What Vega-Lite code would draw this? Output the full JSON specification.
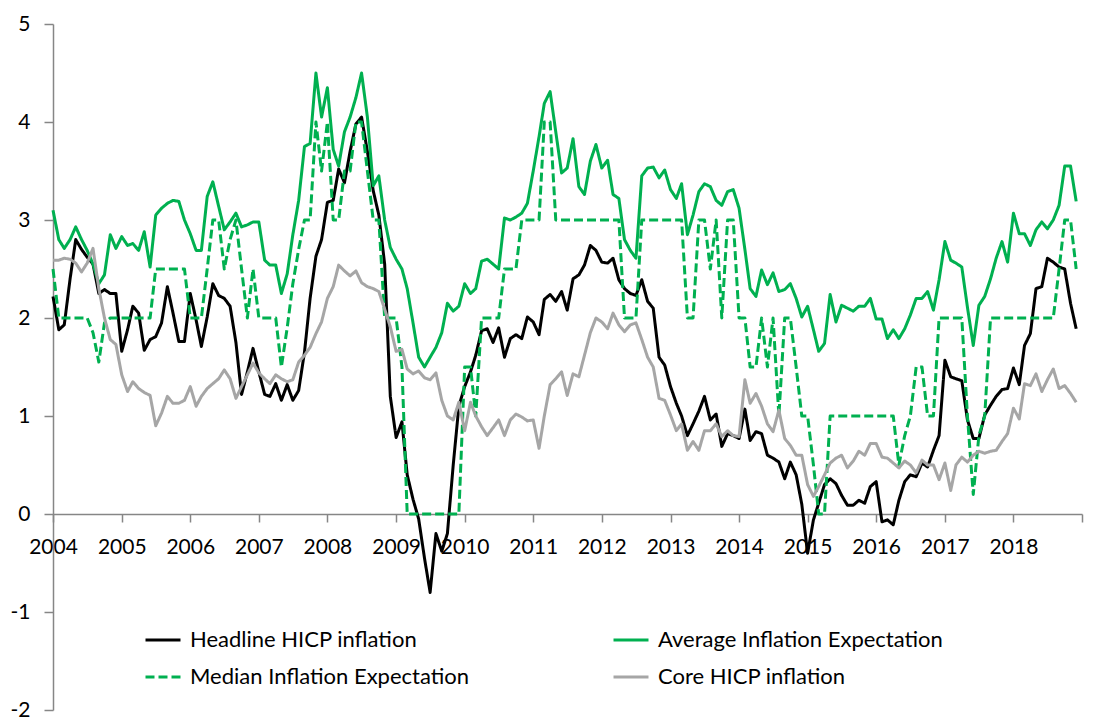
{
"$schema": "https://vega.github.io/schema/vega-lite/v6.json",
"width": 1029, "height": 686,
"autosize": {"type": "none"},
"padding": {"left": 53, "top": 24, "right": 21, "bottom": 12},
"background": "white",
"config": {"view": {"stroke": null}, "font": "Lato"},
"data": {"values": [
{"d":"2004-01-01","h":2.22,"a":3.1,"m":2.5,"c":2.59},
{"d":"2004-02-01","h":1.88,"a":2.8,"m":2.0,"c":2.59},
{"d":"2004-03-01","h":1.93,"a":2.71,"m":2.0,"c":2.61},
{"d":"2004-04-01","h":2.4,"a":2.8,"m":2.0,"c":2.6},
{"d":"2004-05-01","h":2.8,"a":2.93,"m":2.0,"c":2.56},
{"d":"2004-06-01","h":2.7,"a":2.8,"m":2.0,"c":2.47},
{"d":"2004-07-01","h":2.62,"a":2.69,"m":2.0,"c":2.56},
{"d":"2004-08-01","h":2.55,"a":2.55,"m":1.85,"c":2.71},
{"d":"2004-09-01","h":2.25,"a":2.35,"m":1.55,"c":2.3},
{"d":"2004-10-01","h":2.29,"a":2.44,"m":1.95,"c":2.0},
{"d":"2004-11-01","h":2.25,"a":2.85,"m":2.0,"c":1.78},
{"d":"2004-12-01","h":2.25,"a":2.71,"m":2.0,"c":1.73},
{"d":"2005-01-01","h":1.66,"a":2.83,"m":2.0,"c":1.42},
{"d":"2005-02-01","h":1.88,"a":2.74,"m":2.0,"c":1.25},
{"d":"2005-03-01","h":2.12,"a":2.76,"m":2.0,"c":1.35},
{"d":"2005-04-01","h":2.05,"a":2.69,"m":2.0,"c":1.28},
{"d":"2005-05-01","h":1.67,"a":2.88,"m":2.0,"c":1.24},
{"d":"2005-06-01","h":1.78,"a":2.52,"m":2.0,"c":1.21},
{"d":"2005-07-01","h":1.81,"a":3.05,"m":2.5,"c":0.9},
{"d":"2005-08-01","h":1.95,"a":3.12,"m":2.5,"c":1.03},
{"d":"2005-09-01","h":2.32,"a":3.17,"m":2.5,"c":1.2},
{"d":"2005-10-01","h":2.05,"a":3.2,"m":2.5,"c":1.13},
{"d":"2005-11-01","h":1.76,"a":3.19,"m":2.5,"c":1.13},
{"d":"2005-12-01","h":1.76,"a":3.0,"m":2.5,"c":1.16},
{"d":"2006-01-01","h":2.25,"a":2.86,"m":2.0,"c":1.3},
{"d":"2006-02-01","h":1.98,"a":2.69,"m":2.0,"c":1.1},
{"d":"2006-03-01","h":1.71,"a":2.69,"m":2.0,"c":1.2},
{"d":"2006-04-01","h":2.01,"a":3.24,"m":2.5,"c":1.28},
{"d":"2006-05-01","h":2.35,"a":3.39,"m":3.0,"c":1.33},
{"d":"2006-06-01","h":2.23,"a":3.14,"m":3.0,"c":1.38},
{"d":"2006-07-01","h":2.2,"a":2.9,"m":2.5,"c":1.47},
{"d":"2006-08-01","h":2.12,"a":2.98,"m":2.8,"c":1.38},
{"d":"2006-09-01","h":1.75,"a":3.07,"m":3.0,"c":1.18},
{"d":"2006-10-01","h":1.22,"a":2.93,"m":2.5,"c":1.3},
{"d":"2006-11-01","h":1.45,"a":2.95,"m":2.0,"c":1.42},
{"d":"2006-12-01","h":1.69,"a":2.98,"m":2.5,"c":1.54},
{"d":"2007-01-01","h":1.45,"a":2.98,"m":2.0,"c":1.44},
{"d":"2007-02-01","h":1.22,"a":2.59,"m":2.0,"c":1.38},
{"d":"2007-03-01","h":1.2,"a":2.54,"m":2.0,"c":1.33},
{"d":"2007-04-01","h":1.33,"a":2.54,"m":2.0,"c":1.42},
{"d":"2007-05-01","h":1.16,"a":2.25,"m":1.5,"c":1.38},
{"d":"2007-06-01","h":1.32,"a":2.45,"m":1.9,"c":1.35},
{"d":"2007-07-01","h":1.16,"a":2.85,"m":2.35,"c":1.37},
{"d":"2007-08-01","h":1.26,"a":3.2,"m":2.7,"c":1.55},
{"d":"2007-09-01","h":1.65,"a":3.75,"m":3.0,"c":1.62},
{"d":"2007-10-01","h":2.2,"a":3.78,"m":3.0,"c":1.7},
{"d":"2007-11-01","h":2.63,"a":4.5,"m":4.0,"c":1.84},
{"d":"2007-12-01","h":2.8,"a":4.05,"m":3.5,"c":1.96},
{"d":"2008-01-01","h":3.18,"a":4.35,"m":4.0,"c":2.2},
{"d":"2008-02-01","h":3.2,"a":3.72,"m":3.0,"c":2.32},
{"d":"2008-03-01","h":3.52,"a":3.55,"m":3.0,"c":2.54},
{"d":"2008-04-01","h":3.38,"a":3.9,"m":3.5,"c":2.48},
{"d":"2008-05-01","h":3.7,"a":4.05,"m":3.5,"c":2.43},
{"d":"2008-06-01","h":3.98,"a":4.25,"m":4.0,"c":2.48},
{"d":"2008-07-01","h":4.05,"a":4.5,"m":4.0,"c":2.36},
{"d":"2008-08-01","h":3.7,"a":4.05,"m":3.5,"c":2.32},
{"d":"2008-09-01","h":3.3,"a":3.35,"m":3.0,"c":2.3},
{"d":"2008-10-01","h":3.05,"a":3.45,"m":3.0,"c":2.27},
{"d":"2008-11-01","h":2.55,"a":3.0,"m":2.0,"c":2.09},
{"d":"2008-12-01","h":1.2,"a":2.72,"m":2.0,"c":1.91},
{"d":"2009-01-01","h":0.78,"a":2.6,"m":2.0,"c":1.66},
{"d":"2009-02-01","h":0.94,"a":2.5,"m":1.5,"c":1.68},
{"d":"2009-03-01","h":0.4,"a":2.3,"m":0.0,"c":1.48},
{"d":"2009-04-01","h":0.15,"a":1.95,"m":0.0,"c":1.43},
{"d":"2009-05-01","h":-0.05,"a":1.6,"m":0.0,"c":1.46},
{"d":"2009-06-01","h":-0.45,"a":1.5,"m":0.0,"c":1.39},
{"d":"2009-07-01","h":-0.8,"a":1.6,"m":0.0,"c":1.37},
{"d":"2009-08-01","h":-0.2,"a":1.7,"m":0.0,"c":1.44},
{"d":"2009-09-01","h":-0.38,"a":1.85,"m":0.0,"c":1.16},
{"d":"2009-10-01","h":-0.2,"a":2.15,"m":0.0,"c":1.0},
{"d":"2009-11-01","h":0.5,"a":2.07,"m":0.0,"c":0.96},
{"d":"2009-12-01","h":1.1,"a":2.12,"m":0.0,"c":1.14},
{"d":"2010-01-01","h":1.3,"a":2.35,"m":1.5,"c":0.85},
{"d":"2010-02-01","h":1.45,"a":2.25,"m":1.5,"c":1.14},
{"d":"2010-03-01","h":1.62,"a":2.3,"m":1.0,"c":1.0},
{"d":"2010-04-01","h":1.87,"a":2.58,"m":2.0,"c":0.89},
{"d":"2010-05-01","h":1.89,"a":2.6,"m":2.0,"c":0.8},
{"d":"2010-06-01","h":1.75,"a":2.55,"m":2.0,"c":0.88},
{"d":"2010-07-01","h":1.9,"a":2.5,"m":2.0,"c":0.96},
{"d":"2010-08-01","h":1.6,"a":3.02,"m":2.5,"c":0.8},
{"d":"2010-09-01","h":1.79,"a":3.0,"m":2.5,"c":0.96},
{"d":"2010-10-01","h":1.83,"a":3.03,"m":2.5,"c":1.02},
{"d":"2010-11-01","h":1.79,"a":3.07,"m":3.0,"c":0.99},
{"d":"2010-12-01","h":2.01,"a":3.17,"m":3.0,"c":0.95},
{"d":"2011-01-01","h":1.96,"a":3.5,"m":3.0,"c":0.96},
{"d":"2011-02-01","h":1.83,"a":3.85,"m":3.0,"c":0.67},
{"d":"2011-03-01","h":2.19,"a":4.19,"m":4.0,"c":1.0},
{"d":"2011-04-01","h":2.24,"a":4.31,"m":4.0,"c":1.32},
{"d":"2011-05-01","h":2.17,"a":3.9,"m":3.0,"c":1.38},
{"d":"2011-06-01","h":2.27,"a":3.48,"m":3.0,"c":1.45},
{"d":"2011-07-01","h":2.08,"a":3.53,"m":3.0,"c":1.21},
{"d":"2011-08-01","h":2.4,"a":3.83,"m":3.0,"c":1.43},
{"d":"2011-09-01","h":2.44,"a":3.34,"m":3.0,"c":1.4},
{"d":"2011-10-01","h":2.54,"a":3.26,"m":3.0,"c":1.62},
{"d":"2011-11-01","h":2.74,"a":3.6,"m":3.0,"c":1.85},
{"d":"2011-12-01","h":2.69,"a":3.77,"m":3.0,"c":2.0},
{"d":"2012-01-01","h":2.57,"a":3.53,"m":3.0,"c":1.96},
{"d":"2012-02-01","h":2.56,"a":3.61,"m":3.0,"c":1.89},
{"d":"2012-03-01","h":2.61,"a":3.26,"m":3.0,"c":2.05},
{"d":"2012-04-01","h":2.39,"a":3.22,"m":3.0,"c":1.93},
{"d":"2012-05-01","h":2.3,"a":2.8,"m":2.0,"c":1.86},
{"d":"2012-06-01","h":2.25,"a":2.69,"m":2.0,"c":1.93},
{"d":"2012-07-01","h":2.23,"a":2.61,"m":2.0,"c":1.95},
{"d":"2012-08-01","h":2.39,"a":3.45,"m":3.0,"c":1.78},
{"d":"2012-09-01","h":2.17,"a":3.53,"m":3.0,"c":1.6},
{"d":"2012-10-01","h":2.1,"a":3.54,"m":3.0,"c":1.5},
{"d":"2012-11-01","h":1.6,"a":3.43,"m":3.0,"c":1.18},
{"d":"2012-12-01","h":1.52,"a":3.51,"m":3.0,"c":1.16},
{"d":"2013-01-01","h":1.3,"a":3.31,"m":3.0,"c":1.01},
{"d":"2013-02-01","h":1.13,"a":3.22,"m":3.0,"c":0.85},
{"d":"2013-03-01","h":1.0,"a":3.37,"m":3.0,"c":0.92},
{"d":"2013-04-01","h":0.8,"a":2.85,"m":2.0,"c":0.65},
{"d":"2013-05-01","h":0.92,"a":3.05,"m":2.0,"c":0.74},
{"d":"2013-06-01","h":1.05,"a":3.29,"m":3.0,"c":0.65},
{"d":"2013-07-01","h":1.2,"a":3.37,"m":3.0,"c":0.85},
{"d":"2013-08-01","h":0.96,"a":3.34,"m":2.5,"c":0.85},
{"d":"2013-09-01","h":1.02,"a":3.2,"m":3.0,"c":0.92},
{"d":"2013-10-01","h":0.69,"a":3.15,"m":2.0,"c":0.79},
{"d":"2013-11-01","h":0.82,"a":3.29,"m":3.0,"c":0.85},
{"d":"2013-12-01","h":0.8,"a":3.31,"m":3.0,"c":0.8},
{"d":"2014-01-01","h":0.77,"a":3.12,"m":2.0,"c":0.79},
{"d":"2014-02-01","h":1.07,"a":2.7,"m":2.0,"c":1.37},
{"d":"2014-03-01","h":0.75,"a":2.3,"m":1.5,"c":1.13},
{"d":"2014-04-01","h":0.84,"a":2.22,"m":1.5,"c":1.23},
{"d":"2014-05-01","h":0.82,"a":2.49,"m":2.0,"c":1.1},
{"d":"2014-06-01","h":0.6,"a":2.34,"m":1.5,"c":0.92},
{"d":"2014-07-01","h":0.57,"a":2.46,"m":2.0,"c":0.84},
{"d":"2014-08-01","h":0.53,"a":2.27,"m":1.0,"c":1.06},
{"d":"2014-09-01","h":0.36,"a":2.29,"m":2.0,"c":0.77},
{"d":"2014-10-01","h":0.53,"a":2.35,"m":2.0,"c":0.7},
{"d":"2014-11-01","h":0.4,"a":2.2,"m":1.5,"c":0.6},
{"d":"2014-12-01","h":0.1,"a":2.01,"m":1.0,"c":0.6},
{"d":"2015-01-01","h":-0.4,"a":2.12,"m":1.0,"c":0.3},
{"d":"2015-02-01","h":-0.06,"a":1.88,"m":0.5,"c":0.18},
{"d":"2015-03-01","h":0.11,"a":1.66,"m":0.0,"c":0.28},
{"d":"2015-04-01","h":0.3,"a":1.74,"m":0.0,"c":0.4},
{"d":"2015-05-01","h":0.36,"a":2.24,"m":1.0,"c":0.52},
{"d":"2015-06-01","h":0.31,"a":1.96,"m":1.0,"c":0.57},
{"d":"2015-07-01","h":0.19,"a":2.13,"m":1.0,"c":0.6},
{"d":"2015-08-01","h":0.09,"a":2.1,"m":1.0,"c":0.47},
{"d":"2015-09-01","h":0.09,"a":2.07,"m":1.0,"c":0.54},
{"d":"2015-10-01","h":0.14,"a":2.12,"m":1.0,"c":0.64},
{"d":"2015-11-01","h":0.11,"a":2.12,"m":1.0,"c":0.6},
{"d":"2015-12-01","h":0.28,"a":2.2,"m":1.0,"c":0.72},
{"d":"2016-01-01","h":0.33,"a":1.99,"m":1.0,"c":0.72},
{"d":"2016-02-01","h":-0.08,"a":1.99,"m":1.0,"c":0.58},
{"d":"2016-03-01","h":-0.06,"a":1.79,"m":1.0,"c":0.57},
{"d":"2016-04-01","h":-0.11,"a":1.88,"m":1.0,"c":0.52},
{"d":"2016-05-01","h":0.14,"a":1.79,"m":0.5,"c":0.47},
{"d":"2016-06-01","h":0.33,"a":1.89,"m":0.8,"c":0.54},
{"d":"2016-07-01","h":0.4,"a":2.03,"m":1.0,"c":0.5},
{"d":"2016-08-01","h":0.38,"a":2.2,"m":1.5,"c":0.42},
{"d":"2016-09-01","h":0.52,"a":2.2,"m":1.5,"c":0.55},
{"d":"2016-10-01","h":0.48,"a":2.27,"m":1.0,"c":0.5},
{"d":"2016-11-01","h":0.65,"a":2.08,"m":1.0,"c":0.5},
{"d":"2016-12-01","h":0.8,"a":2.39,"m":2.0,"c":0.35},
{"d":"2017-01-01","h":1.57,"a":2.78,"m":2.0,"c":0.52},
{"d":"2017-02-01","h":1.4,"a":2.59,"m":2.0,"c":0.24},
{"d":"2017-03-01","h":1.38,"a":2.56,"m":2.0,"c":0.5},
{"d":"2017-04-01","h":1.36,"a":2.52,"m":2.0,"c":0.58},
{"d":"2017-05-01","h":0.96,"a":2.11,"m":1.0,"c":0.53},
{"d":"2017-06-01","h":0.77,"a":1.72,"m":0.2,"c":0.6},
{"d":"2017-07-01","h":0.77,"a":2.13,"m":0.8,"c":0.64},
{"d":"2017-08-01","h":1.01,"a":2.22,"m":1.0,"c":0.62},
{"d":"2017-09-01","h":1.11,"a":2.4,"m":2.0,"c":0.64},
{"d":"2017-10-01","h":1.2,"a":2.61,"m":2.0,"c":0.65},
{"d":"2017-11-01","h":1.27,"a":2.78,"m":2.0,"c":0.74},
{"d":"2017-12-01","h":1.28,"a":2.57,"m":2.0,"c":0.82},
{"d":"2018-01-01","h":1.49,"a":3.07,"m":2.0,"c":1.08},
{"d":"2018-02-01","h":1.32,"a":2.86,"m":2.0,"c":0.97},
{"d":"2018-03-01","h":1.72,"a":2.86,"m":2.0,"c":1.33},
{"d":"2018-04-01","h":1.84,"a":2.74,"m":2.0,"c":1.31},
{"d":"2018-05-01","h":2.3,"a":2.9,"m":2.0,"c":1.43},
{"d":"2018-06-01","h":2.32,"a":2.98,"m":2.0,"c":1.25},
{"d":"2018-07-01","h":2.61,"a":2.91,"m":2.0,"c":1.37},
{"d":"2018-08-01","h":2.57,"a":3.0,"m":2.0,"c":1.48},
{"d":"2018-09-01","h":2.52,"a":3.15,"m":2.5,"c":1.28},
{"d":"2018-10-01","h":2.5,"a":3.55,"m":3.0,"c":1.31},
{"d":"2018-11-01","h":2.15,"a":3.55,"m":3.0,"c":1.23},
{"d":"2018-12-01","h":1.89,"a":3.19,"m":2.5,"c":1.14}
]},
"transform": [{"fold": ["h", "a", "m", "c"], "as": ["s", "v"]}],
"mark": {"type": "line", "strokeWidth": 3, "strokeJoin": "round"},
"encoding": {
  "x": {"field": "d", "type": "temporal",
    "scale": {"domain": [{"year": 2004, "month": 1, "date": 1}, {"year": 2019, "month": 1, "date": 1}]},
    "axis": {"title": null, "tickCount": {"interval": "year", "step": 1}, "offset": -196, "grid": false,
      "domainColor": "#868686", "domainWidth": 1.5, "tickColor": "#868686", "tickWidth": 1.5, "tickSize": 8,
      "labelPadding": 14, "labelFontSize": 21, "labelColor": "#000000", "labelFlush": false, "labelOverlap": false,
      "labelExpr": "year(datum.value) == 2019 ? '' : timeFormat(datum.value, '%Y')"}},
  "y": {"field": "v", "type": "quantitative",
    "scale": {"domain": [-2, 5], "nice": false, "zero": false},
    "axis": {"title": null, "values": [-2, -1, 0, 1, 2, 3, 4, 5], "grid": false,
      "domainColor": "#868686", "domainWidth": 1.5, "tickColor": "#868686", "tickWidth": 1.5, "tickSize": 9,
      "labelPadding": 14, "labelFontSize": 21, "labelColor": "#000000", "labelExpr": "'' + datum.value"}},
  "color": {"field": "s", "type": "nominal",
    "scale": {"domain": ["h", "m", "a", "c"], "range": ["#000000", "#00B050", "#00B050", "#A6A6A6"]},
    "legend": {"title": null, "orient": "none", "legendX": 91, "legendY": 597, "columns": 2, "columnPadding": 137, "rowPadding": 7,
      "symbolType": "stroke", "symbolSize": 1225, "symbolStrokeWidth": 3, "labelFontSize": 22, "labelOffset": 8, "labelLimit": 500, "labelColor": "#000000",
      "labelExpr": "datum.value == 'h' ? 'Headline HICP inflation' : datum.value == 'a' ? 'Average Inflation Expectation' : datum.value == 'm' ? 'Median Inflation Expectation' : 'Core HICP inflation'"}},
  "strokeDash": {"field": "s", "type": "nominal",
    "scale": {"domain": ["h", "m", "a", "c"], "range": [[1, 0], [9, 4], [1, 0], [1, 0]]},
    "legend": {"title": null, "orient": "none", "legendX": 91, "legendY": 597, "columns": 2, "columnPadding": 137, "rowPadding": 7,
      "symbolType": "stroke", "symbolSize": 1225, "symbolStrokeWidth": 3, "labelFontSize": 22, "labelOffset": 8, "labelLimit": 500, "labelColor": "#000000",
      "labelExpr": "datum.value == 'h' ? 'Headline HICP inflation' : datum.value == 'a' ? 'Average Inflation Expectation' : datum.value == 'm' ? 'Median Inflation Expectation' : 'Core HICP inflation'"}}
}
}
